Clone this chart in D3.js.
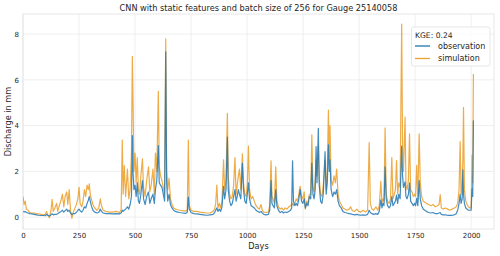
<!DOCTYPE html>
<html>
<head>
<meta charset="utf-8">
<script src="https://cdn.jsdelivr.net/npm/d3@7"></script>
<style>
  body { margin: 0; background: #fff; }
  text { font-family: "DejaVu Sans", sans-serif; fill: #262626; }
</style>
</head>
<body>
<svg id="chart" width="500" height="256"></svg>
<script>
// values (day index, discharge in mm)
const days = [0,5,10,15,22,30,40,50,60,70,80,90,100,105,110,118,125,130,135,142,150,155,162,170,176,182,188,195,200,206,212,218,224,230,238,245,250,255,262,268,274,280,286,292,296,300,305,312,320,330,338,345,350,358,370,385,400,415,430,438,443,447,452,458,466,472,478,484,488,491,495,500,505,510,515,520,526,533,538,545,552,560,566,572,580,586,591,597,604,608,614,620,626,632,637,641,646,652,658,665,672,680,690,700,712,725,733,738,742,750,762,775,790,805,820,835,848,855,860,865,870,876,882,888,895,900,906,912,916,922,928,934,940,946,951,956,961,966,972,979,984,990,996,1001,1006,1011,1018,1025,1032,1040,1048,1055,1062,1068,1075,1085,1095,1101,1107,1111,1116,1122,1128,1133,1140,1148,1155,1162,1170,1178,1186,1194,1199,1203,1207,1213,1219,1225,1231,1237,1243,1249,1255,1260,1266,1272,1278,1284,1289,1294,1299,1304,1308,1312,1318,1322,1328,1334,1340,1348,1353,1358,1363,1367,1370,1375,1382,1388,1394,1400,1406,1412,1420,1428,1436,1445,1455,1462,1470,1480,1490,1498,1508,1518,1528,1538,1545,1550,1557,1565,1575,1583,1590,1597,1602,1606,1611,1616,1621,1627,1634,1640,1646,1651,1657,1662,1667,1672,1677,1683,1690,1694,1698,1705,1709,1714,1720,1725,1730,1736,1742,1748,1752,1757,1762,1768,1773,1779,1786,1793,1800,1810,1820,1830,1840,1850,1857,1862,1867,1875,1885,1895,1905,1915,1925,1933,1940,1946,1951,1955,1960,1963,1966,1970,1976,1982,1988,1995,2000,2004,2007,2010];

const observation = [0.25,0.22,0.25,0.20,0.18,0.15,0.14,0.12,0.10,0.08,0.07,0.07,0.06,0.12,0.08,0.05,0.10,0.15,0.10,0.12,0.12,0.15,0.20,0.25,0.30,0.22,0.28,0.35,0.25,0.30,0.18,0.12,0.15,0.15,0.20,0.30,0.35,0.28,0.22,0.30,0.45,0.40,0.60,0.75,0.90,0.70,0.50,0.30,0.22,0.18,0.20,0.35,0.25,0.18,0.15,0.15,0.14,0.15,0.14,0.18,0.30,0.25,0.30,0.35,0.45,0.35,0.55,0.90,3.56,2.00,1.20,1.40,0.90,1.50,0.70,0.60,1.00,1.60,0.80,0.55,0.90,1.10,0.60,0.80,1.00,0.60,1.20,1.60,3.13,1.50,1.40,1.30,1.00,0.70,7.23,1.50,0.70,1.00,0.55,0.40,0.30,0.25,0.22,0.20,0.18,0.16,0.20,0.87,0.35,0.20,0.15,0.14,0.12,0.10,0.08,0.10,0.12,0.20,0.30,0.40,0.25,0.35,0.25,0.45,1.34,0.80,1.20,3.50,1.20,0.70,0.50,0.60,0.90,1.20,0.70,0.90,1.20,1.00,0.80,2.35,1.20,0.70,0.60,1.00,1.50,0.80,0.50,0.45,0.40,0.30,0.25,0.20,0.25,0.18,0.12,0.10,0.12,0.30,1.60,0.60,0.50,0.40,1.20,0.50,0.30,0.20,0.25,0.18,0.22,0.20,0.25,0.30,0.40,2.46,0.70,0.50,0.60,0.50,0.80,1.20,0.70,0.60,0.80,0.40,0.60,0.50,0.90,0.80,2.35,1.00,0.80,1.20,3.08,1.50,3.88,1.40,0.70,0.60,1.00,2.86,1.00,1.50,3.16,2.00,2.50,1.20,0.90,1.10,1.00,1.20,0.70,0.50,0.40,0.25,0.20,0.18,0.15,0.14,0.12,0.10,0.12,0.10,0.08,0.10,0.08,0.12,0.30,0.20,0.15,0.12,0.15,0.12,0.25,0.75,0.40,0.60,0.50,2.20,0.80,0.50,0.40,0.50,0.90,0.50,0.60,0.70,0.96,0.60,1.00,0.80,3.10,1.80,1.30,1.54,0.90,0.80,1.00,1.50,0.70,0.60,0.50,0.60,0.50,0.82,0.50,1.60,0.80,0.50,0.35,0.30,0.25,0.20,0.18,0.20,0.15,0.15,0.18,0.20,0.12,0.10,0.10,0.08,0.08,0.08,0.10,0.15,0.30,0.60,1.00,0.60,0.80,2.07,1.00,0.60,0.40,0.35,0.30,0.30,0.30,1.24,0.90,4.22];

const simulation = [0.90,0.55,0.70,0.35,0.30,0.20,0.18,0.18,0.15,0.14,0.12,0.10,0.12,0.25,0.10,-0.03,0.30,0.78,0.25,0.40,0.60,0.25,0.50,0.75,1.00,0.45,0.90,1.10,0.55,1.20,0.30,-0.05,0.20,0.35,0.55,0.80,1.30,0.60,0.45,0.70,1.20,0.90,1.40,1.20,1.45,1.00,0.80,0.55,0.40,0.30,0.40,0.80,0.50,0.30,0.25,0.22,0.22,0.25,0.20,0.30,3.37,1.00,2.25,0.90,2.10,0.80,1.20,2.80,7.03,5.10,2.00,2.80,1.50,2.60,1.20,1.00,1.80,2.55,1.30,0.90,1.60,2.20,1.10,1.40,2.10,1.00,2.80,2.00,5.50,2.20,1.80,1.60,1.30,1.00,7.79,2.00,1.20,1.70,0.80,0.55,0.40,0.35,0.32,0.30,0.28,0.26,0.30,3.37,0.50,0.30,0.25,0.25,0.22,0.20,0.18,0.18,0.25,0.35,0.60,1.40,0.40,0.60,0.40,0.70,2.50,1.20,1.60,4.54,1.80,1.00,0.80,0.90,1.40,2.60,1.00,1.40,1.80,2.10,1.20,2.77,1.50,1.00,0.90,1.40,3.10,1.20,0.80,0.90,0.70,0.50,0.40,0.35,0.55,0.30,0.22,0.20,0.22,0.50,2.46,0.90,0.80,0.60,2.20,0.70,0.45,0.35,0.40,0.30,0.40,0.35,0.45,0.50,0.55,0.60,0.50,0.60,0.80,0.70,1.00,1.35,0.90,0.80,1.10,0.35,0.70,0.60,1.00,1.00,3.60,1.30,1.10,1.60,2.50,1.80,3.10,1.70,1.00,0.90,1.40,2.50,1.20,2.00,4.68,2.50,4.00,1.60,1.40,1.80,1.50,2.10,1.00,0.70,0.55,0.40,0.35,0.30,0.35,0.45,0.28,0.25,0.35,0.25,0.22,0.30,0.22,0.30,3.26,0.60,0.35,0.30,0.45,0.30,0.50,1.56,0.60,0.80,0.70,3.90,1.00,0.70,0.60,0.80,2.60,0.80,1.00,1.20,2.47,1.00,1.50,1.30,8.44,3.00,2.00,4.37,1.40,1.20,1.60,3.64,1.20,1.10,0.90,1.00,0.90,2.26,0.80,3.64,1.50,0.90,0.70,0.65,0.60,0.55,0.50,0.55,0.45,0.50,0.55,0.98,0.40,0.35,0.40,0.35,0.30,0.35,0.40,0.45,0.60,1.20,3.30,1.00,1.50,2.50,4.80,1.20,0.70,0.55,0.45,0.40,0.40,2.70,1.50,6.26];

const yTicks = [0, 2, 4, 6, 8];
const xTicks = [0, 250, 500, 750, 1000, 1250, 1500, 1750, 2000];
const seriesNames = ["observation", "simulation"];
const colors = ["#1f77b4", "#f0a030"];

const svg = d3.select("#chart");
const margin = { top: 14, right: 6, bottom: 27, left: 23 };
const width = 500 - margin.left - margin.right;
const height = 256 - margin.top - margin.bottom;

const x = d3.scaleLinear().domain([0, 2102]).range([0, width]);
const y = d3.scaleLinear().domain([-0.52, 8.88]).range([height, 0]);

const g = svg.append("g")
    .attr("transform", "translate(" + margin.left + "," + margin.top + ")");

// grid
g.append("g")
    .selectAll("line.gy")
    .data(yTicks)
    .join("line")
    .attr("x1", 0).attr("x2", width)
    .attr("y1", d => y(d)).attr("y2", d => y(d))
    .attr("stroke", "#ebebeb").attr("stroke-width", 0.8);
g.append("g")
    .selectAll("line.gx")
    .data(xTicks)
    .join("line")
    .attr("y1", 0).attr("y2", height)
    .attr("x1", d => x(d)).attr("x2", d => x(d))
    .attr("stroke", "#ebebeb").attr("stroke-width", 0.8);

// axes (labels only, seaborn whitegrid style)
const xAxis = g.append("g")
    .attr("transform", "translate(0," + height + ")")
    .call(d3.axisBottom(x).tickValues(xTicks).tickFormat(d3.format("d")).tickSize(0).tickPadding(4));
const yAxis = g.append("g")
    .call(d3.axisLeft(y).tickValues(yTicks).tickFormat(d3.format("d")).tickSize(0).tickPadding(4));
[xAxis, yAxis].forEach(a => {
    a.select(".domain").remove();
    a.selectAll("text")
        .style("font-family", "DejaVu Sans")
        .style("font-size", "7px")
        .attr("fill", "#262626");
});

// frame
g.append("rect")
    .attr("width", width).attr("height", height)
    .attr("fill", "none").attr("stroke", "#e0e0e0").attr("stroke-width", 0.8);

g.append("clipPath").attr("id", "clip")
    .append("rect").attr("width", width).attr("height", height);

const line = d3.line()
    .x((d, i) => x(days[i]))
    .y(d => y(d));

const plot = g.append("g").attr("clip-path", "url(#clip)");
plot.append("path")
    .datum(simulation)
    .attr("d", line)
    .attr("fill", "none")
    .attr("stroke", "#e8900a")
    .attr("stroke-opacity", 0.75)
    .attr("stroke-width", 1.2)
    .attr("stroke-linejoin", "round");
plot.append("path")
    .datum(observation)
    .attr("d", line)
    .attr("fill", "none")
    .attr("stroke", "#1f77b4")
    .attr("stroke-opacity", 0.85)
    .attr("stroke-width", 1.2)
    .attr("stroke-linejoin", "round");

// title and axis labels
svg.append("text")
    .attr("x", margin.left + width / 2).attr("y", 11)
    .attr("text-anchor", "middle")
    .style("font-size", "8.2px")
    .text("CNN with static features and batch size of 256 for Gauge 25140058");
svg.append("text")
    .attr("x", margin.left + width / 2).attr("y", 249)
    .attr("text-anchor", "middle")
    .style("font-size", "8.2px")
    .text("Days");
svg.append("text")
    .attr("transform", "translate(11," + (margin.top + height / 2) + ") rotate(-90)")
    .attr("text-anchor", "middle")
    .style("font-size", "8.2px")
    .text("Discharge in mm");

// legend
const lg = svg.append("g").attr("transform", "translate(411.5,27)");
lg.append("rect")
    .attr("width", 78.5).attr("height", 39).attr("rx", 2)
    .attr("fill", "#fff").attr("fill-opacity", 0.8)
    .attr("stroke", "#e0e0e0").attr("stroke-width", 0.8);
lg.append("text")
    .attr("x", 3.5).attr("y", 10.5)
    .style("font-size", "7.6px")
    .text("KGE: 0.24");
seriesNames.forEach((name, i) => {
    const yy = 19 + i * 12.5;
    lg.append("line")
        .attr("x1", 3.5).attr("x2", 18.5)
        .attr("y1", yy).attr("y2", yy)
        .attr("stroke", colors[i]).attr("stroke-width", 1.3);
    lg.append("text")
        .attr("x", 26.5).attr("y", yy + 2.8)
        .style("font-size", "8px")
        .text(name);
});
</script>
</body>
</html>
